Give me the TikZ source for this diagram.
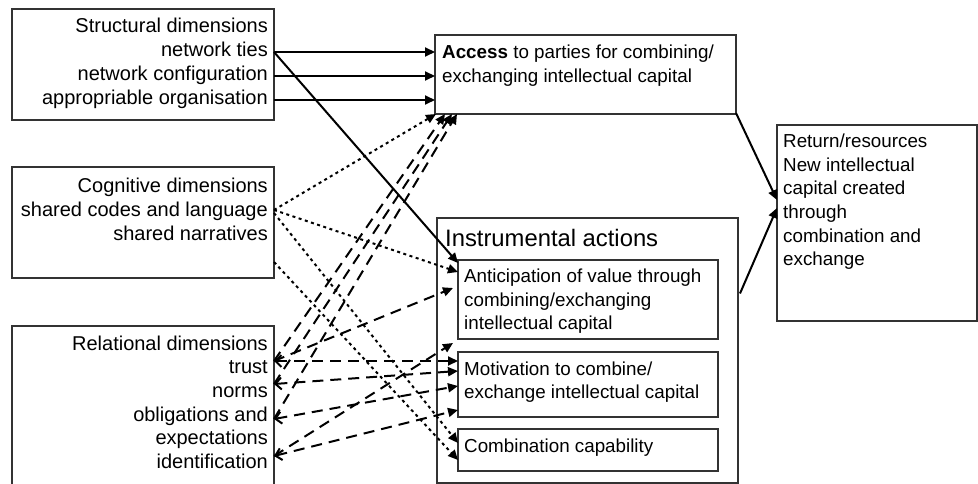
\documentclass[tikz,border=0pt]{standalone}
\usepackage{fontspec}
\setmainfont{Liberation Sans}
\usetikzlibrary{arrows.meta}
\begin{document}
\begin{tikzpicture}[x=1pt,y=-1pt,
  box/.style={draw=black!80, line width=1.4pt, anchor=north west, inner sep=0pt, outer sep=0pt},
  ltext/.style={anchor=base east, inner sep=0pt, font=\fontsize{20}{24}\selectfont},
  rtext/.style={anchor=base west, inner sep=0pt, font=\fontsize{18.8}{23.5}\selectfont},
  htext/.style={anchor=base west, inner sep=0pt, font=\fontsize{23.8}{28}\selectfont},
  tip/.style={-{Triangle[length=10pt,width=9pt]}},
  solidarr/.style={tip, line width=2pt},
  dotarr/.style={tip, line width=2pt, dash pattern=on 3pt off 3.5pt},
  dasharr/.style={tip, line width=2pt, dash pattern=on 11pt off 7pt},
  dashboth/.style={dasharr, {Straight Barb[length=6pt,width=12pt]}-{Triangle[length=10pt,width=9pt]}}
]
\useasboundingbox (0,0) rectangle (978,484);
\clip (0,0) rectangle (978,484);

% ---- boxes ----
\node[box, minimum width=262pt, minimum height=111pt] (struct) at (12,9) {};
\node[box, minimum width=262pt, minimum height=111pt] (cogn) at (12,167) {};
\node[box, minimum width=262pt, minimum height=180pt] (rel) at (12,326) {};
\node[box, minimum width=301pt, minimum height=79pt] (access) at (435,35) {};
\node[box, minimum width=301pt, minimum height=265pt] (instr) at (437,218) {};
\node[box, minimum width=260pt, minimum height=79pt] (antic) at (458,260) {};
\node[box, minimum width=260pt, minimum height=65pt] (motiv) at (458,352) {};
\node[box, minimum width=260pt, minimum height=42pt] (combo) at (458,429) {};
\node[box, minimum width=200pt, minimum height=196pt] (ret) at (777,125) {};

% ---- texts ----
\foreach \txt [count=\i] in {Structural dimensions,network ties,network configuration,appropriable organisation}
  \node[ltext] (st\i) at (268,{33+23.8*(\i-1)}) {\txt};
\foreach \txt [count=\i] in {Cognitive dimensions,shared codes and language,shared narratives}
  \node[ltext] (cg\i) at (268,{193+23.7*(\i-1)}) {\txt};
\foreach \txt [count=\i] in {Relational dimensions,trust,norms,obligations and,expectations,identification}
  \node[ltext] (rl\i) at (268,{350+23.7*(\i-1)}) {\txt};
\foreach \txt [count=\i] in {{\textbf{Access} to parties for combining/},exchanging intellectual capital}
  \node[rtext] (ac\i) at (442,{59+23.5*(\i-1)}) {\txt};
\node[htext] (ih) at (445,247) {Instrumental actions};
\foreach \txt [count=\i] in {Anticipation of value through,combining/exchanging,intellectual capital}
  \node[rtext] (an\i) at (464,{282.5+23.5*(\i-1)}) {\txt};
\foreach \txt [count=\i] in {Motivation to combine/,exchange intellectual capital}
  \node[rtext] (mo\i) at (464,{375+23.5*(\i-1)}) {\txt};
\node[rtext] (cb1) at (464,452) {Combination capability};
\foreach \txt [count=\i] in {Return/resources,New intellectual,capital created,through,combination and,exchange}
  \node[rtext] (rt\i) at (783,{148+23.5*(\i-1)}) {\txt};

% ---- attachment points ----
\coordinate (sTies) at ([yshift=-43pt]struct.north east);
\coordinate (sConf) at ([yshift=-67pt]struct.north east);
\coordinate (sAppr) at ([yshift=-91pt]struct.north east);
\coordinate (cShared) at ([yshift=-43pt]cogn.north east);
\coordinate (cShared2) at ([yshift=-46pt]cogn.north east);
\coordinate (cLow) at ([yshift=-95pt]cogn.north east);
\coordinate (rTrust) at ([yshift=-35pt]rel.north east);
\coordinate (rNorms) at ([yshift=-58pt]rel.north east);
\coordinate (rObl) at ([yshift=-93pt]rel.north east);
\coordinate (rIdent) at ([yshift=-130pt]rel.north east);

% ---- structural links ----
\draw[solidarr] (sTies) -- (sTies -| access.west);
\draw[solidarr] (sConf) -- (sConf -| access.west);
\draw[solidarr] (sAppr) -- (sAppr -| access.west);
\draw[solidarr] (sTies) -- ([yshift=-3pt]antic.north west);

% ---- towards returns ----
\draw[solidarr] ([yshift=1pt]access.south east) -- ([yshift=23pt]ret.west);
\draw[solidarr] ([xshift=2pt,yshift=57pt]instr.east) -- ([yshift=15pt]ret.west);

% ---- cognitive links ----
\draw[dotarr] (cShared) -- ([xshift=1pt]access.south west);
\draw[dotarr] (cShared) -- ([yshift=-12pt]antic.north west);
\draw[dotarr] (cShared2) -- ([yshift=-14pt]combo.north west);
\draw[dotarr] (cLow) -- ([yshift=-31pt]combo.north west);

% ---- relational links ----
\draw[dasharr] (rTrust) -- ([xshift=10pt]access.south west);
\draw[dasharr] (rNorms) -- ([xshift=17pt]access.south west);
\draw[dasharr] (rObl) -- ([xshift=22pt]access.south west);
\draw[dasharr] (rTrust) -- ([xshift=-5pt,yshift=-28pt]antic.north west);
\draw[dasharr] (rIdent) -- ([xshift=-5pt,yshift=-4pt]antic.south west);
\draw[dashboth] (rTrust) -- (rTrust -| motiv.west);
\draw[dashboth] (rNorms) -- ([yshift=-19pt]motiv.north west);
\draw[dashboth] (rObl) -- ([yshift=-34pt]motiv.north west);
\draw[dashboth] (rIdent) -- ([yshift=-58pt]motiv.north west);
\end{tikzpicture}
\end{document}
